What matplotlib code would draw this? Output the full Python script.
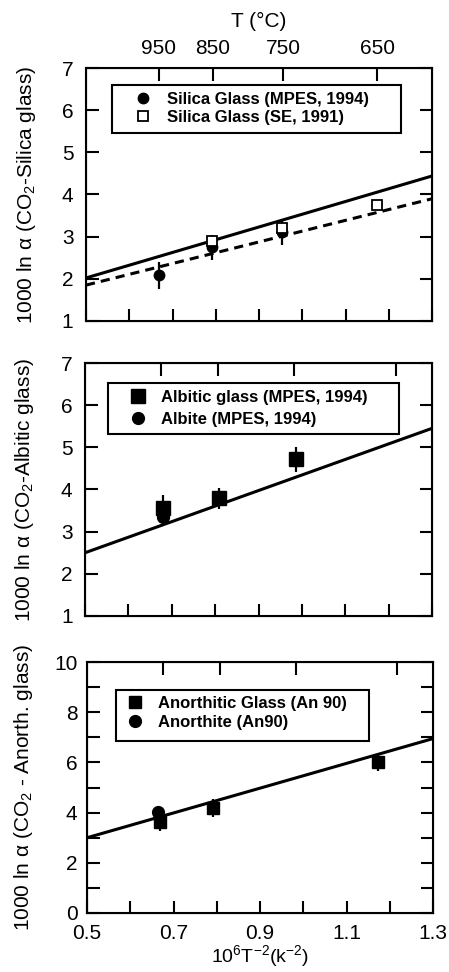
import matplotlib
matplotlib.use("Agg")
import matplotlib.pyplot as plt
from matplotlib.patches import Rectangle
import numpy as np

plt.rcParams["font.family"] = ["Liberation Sans", "DejaVu Sans"]
plt.rcParams["mathtext.fontset"] = "custom"
plt.rcParams["mathtext.rm"] = "Liberation Sans"
plt.rcParams["mathtext.default"] = "regular"

X_RANGE = (0.5, 1.3)

# panel 1: silica glass
fit_x = [0.5, 1.3]
silica_fit = [2.02, 4.44]
silica_fit_se = [1.85, 3.90]
silica_mpes_x = [0.669, 0.792, 0.954]
silica_mpes_y = [2.08, 2.75, 3.11]
silica_mpes_err = [0.32, 0.30, 0.30]
silica_se_x = [0.792, 0.954, 1.173]
silica_se_y = [2.90, 3.21, 3.74]
temps_c = [950, 850, 750, 650]

# panel 2: albitic glass
albitic_fit = [2.5, 5.45]
albitic_glass_x = [0.680, 0.810, 0.986]
albitic_glass_y = [3.56, 3.79, 4.72]
albitic_glass_err = [0.30, 0.25, 0.30]
albite_x = [0.680]
albite_y = [3.34]

# panel 3: anorthitic glass
anorth_fit = [3.0, 6.95]
anorth_glass_x = [0.669, 0.792, 1.172]
anorth_glass_y = [3.61, 4.18, 6.00]
anorth_glass_err = [0.35, 0.35, 0.35]
anorthite_x = [0.665]
anorthite_y = [4.02]

# top ticks of lower panels (as drawn in the original)
lower_top_ticks = [0.676, 0.807, 0.983, 1.217]

TICK = dict(direction="in", length=9, width=1.5, labelsize=15)


def style_axes(ax, yticks, ylabels, top_ticks):
    ax.set_xlim(*X_RANGE)
    ax.set_xticks(np.arange(0.5, 1.31, 0.1))
    ax.set_yticks(yticks, ylabels)
    ax.tick_params(axis="x", pad=8, top=False, **TICK)
    ax.tick_params(axis="y", pad=9, right=True, **TICK)
    for s in ax.spines.values():
        s.set_linewidth(1.5)
    top = ax.twiny()
    top.set_xlim(*X_RANGE)
    top.set_xticks(top_ticks)
    top.tick_params(labeltop=False, pad=7, **TICK)
    return top


def add_legend(ax, handles, labels, box, anchor, spacing):
    x0, y0, x1, y1 = box
    ax.add_patch(Rectangle((x0, y0), x1 - x0, y1 - y0, transform=ax.transAxes,
                           facecolor="white", edgecolor="black", lw=1.5, zorder=4))
    leg = ax.legend(handles, labels, loc="upper left", bbox_to_anchor=anchor,
                    frameon=False, handlelength=1.0, handletextpad=0.9,
                    borderpad=0, borderaxespad=0, labelspacing=spacing,
                    prop={"weight": "bold", "size": 12})
    leg.set_zorder(5)


fig = plt.figure(figsize=(4.49, 9.72), dpi=100)
ax1 = fig.add_axes([0.1915, 0.6698, 0.771, 0.2602])
ax2 = fig.add_axes([0.1895, 0.3663, 0.7725, 0.2602])
ax3 = fig.add_axes([0.194, 0.0607, 0.7705, 0.2582])

# panel 1
ax1.plot(fit_x, silica_fit, color="black", lw=2.2)
ax1.plot(fit_x, silica_fit_se, color="black", lw=2.2, ls=(0, (3, 2)))
ax1.errorbar(silica_mpes_x, silica_mpes_y, yerr=silica_mpes_err, fmt="none",
             ecolor="black", elinewidth=1.6, capsize=0)
h1, = ax1.plot(silica_mpes_x, silica_mpes_y, "o", color="black", ms=7.5, ls="none")
h2, = ax1.plot(silica_se_x, silica_se_y, "s", mfc="white", mec="black",
               mew=1.3, ms=7.5, ls="none")
ax1.set_ylim(1, 7)
temp_pos = [1e6 / (t + 273.15) ** 2 for t in temps_c]
top1 = style_axes(ax1, range(1, 8), [str(v) for v in range(1, 8)], temp_pos)
ax1.set_xticklabels([])
top1.tick_params(labeltop=True)
top1.set_xticklabels([str(t) for t in temps_c])
top1.set_xlabel("T (°C)", fontsize=15, labelpad=9)
ax1.set_ylabel("1000 ln α (CO$_2$-Silica glass)", fontsize=15)
ax1.yaxis.set_label_coords(-0.138, 0.5)
add_legend(ax1, [h1, h2], ["Silica Glass (MPES, 1994)", "Silica Glass (SE, 1991)"],
           (0.075, 0.743, 0.910, 0.933), (0.142, 0.905), 0.15)

# panel 2
ax2.plot(fit_x, albitic_fit, color="black", lw=2.2)
ax2.errorbar(albitic_glass_x, albitic_glass_y, yerr=albitic_glass_err, fmt="none",
             ecolor="black", elinewidth=1.6, capsize=0)
h3, = ax2.plot(albitic_glass_x, albitic_glass_y, "s", color="black", ms=9.5, ls="none")
h4, = ax2.plot(albite_x, albite_y, "o", color="black", ms=8.5, ls="none")
ax2.set_ylim(1, 7)
style_axes(ax2, range(1, 8), [str(v) for v in range(1, 8)], lower_top_ticks)
ax2.set_xticklabels([])
ax2.set_ylabel("1000 ln α (CO$_2$-Albitic glass)", fontsize=15)
ax2.yaxis.set_label_coords(-0.142, 0.5)
add_legend(ax2, [h3, h4], ["Albitic glass (MPES, 1994)", "Albite (MPES, 1994)"],
           (0.066, 0.719, 0.905, 0.921), (0.129, 0.895), 0.45)

# panel 3
ax3.plot(fit_x, anorth_fit, color="black", lw=2.2)
ax3.errorbar(anorth_glass_x, anorth_glass_y, yerr=anorth_glass_err, fmt="none",
             ecolor="black", elinewidth=1.6, capsize=0)
h5, = ax3.plot(anorth_glass_x, anorth_glass_y, "s", color="black", ms=8, ls="none")
h6, = ax3.plot(anorthite_x, anorthite_y, "o", color="black", ms=8.5, ls="none")
ax3.set_ylim(0, 10)
style_axes(ax3, range(0, 11), [str(v) if v % 2 == 0 else "" for v in range(0, 11)],
           lower_top_ticks)
ax3.tick_params(axis="y", pad=7)
ax3.set_xticklabels(["0.5", "", "0.7", "", "0.9", "", "1.1", "", "1.3"])
ax3.set_xlabel("10$^6$T$^{-2}$(k$^{-2}$)", fontsize=14, labelpad=0)
ax3.set_ylabel("1000 ln α (CO$_2$ - Anorth. glass)", fontsize=15)
ax3.yaxis.set_label_coords(-0.15, 0.5)
add_legend(ax3, [h5, h6], ["Anorthitic Glass (An 90)", "Anorthite (An90)"],
           (0.084, 0.685, 0.815, 0.888), (0.113, 0.865), 0.25)

fig.savefig("out.png", dpi=100)
